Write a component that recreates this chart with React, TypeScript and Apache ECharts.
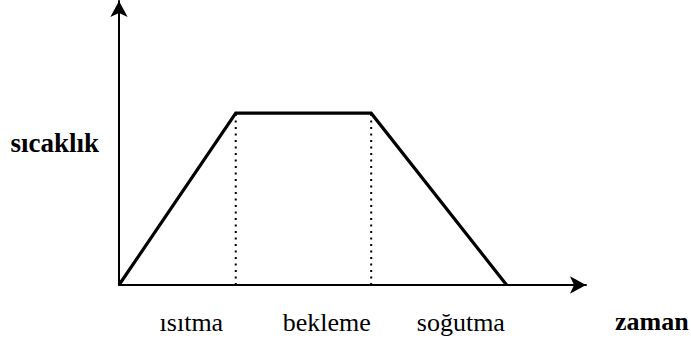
import React, { useEffect, useRef } from "react";
import * as echarts from "echarts";

// time (x) and temperature (y) of the heat-treatment profile
const profileTime = [0, 25, 54, 83];
const profileTemp = [0, 60.5, 60.5, 0];
// dotted guide lines at phase boundaries
const guideTimes = [25, 54];
const guideTop = 60.5;
// phase labels under the time axis
const phaseLabels = ["ısıtma", "bekleme", "soğutma"];
const phaseLabelAt = [15.5, 44.5, 73.2];
const xName = "zaman";
const yName = "sıcaklık";

export default function App() {
  const ref = useRef<HTMLDivElement>(null);
  useEffect(() => {
    if (!ref.current) return;
    const chart = echarts.init(ref.current, null, { renderer: "svg" });
    const font = "Liberation Serif";
    const series: any[] = [
      {
        type: "line",
        data: profileTime.map((t, i) => [t, profileTemp[i]]),
        symbol: "none",
        lineStyle: { color: "#000", width: 3.2, join: "miter" },
        z: 5,
      },
    ];
    guideTimes.forEach((t) => {
      series.push({
        type: "line",
        data: [
          [t, 0],
          [t, guideTop],
        ],
        symbol: "none",
        lineStyle: { color: "#000", width: 2, type: [2, 4.5] },
        z: 3,
      });
    });
    chart.setOption({
      animation: false,
      backgroundColor: "#fff",
      grid: { left: 119, right: 105, top: 1, bottom: 55, outerBoundsMode: "none", containLabel: false },
      xAxis: {
        type: "value",
        min: 0,
        max: 100,
        name: xName,
        nameLocation: "end",
        nameGap: 29,
        nameTextStyle: {
          fontFamily: font,
          fontSize: 26,
          fontWeight: "bold",
          color: "#000",
          verticalAlign: "top",
          align: "left",
          padding: [23, 0, 0, 0],
        },
        axisLine: {
          show: true,
          symbol: ["none", "arrow"],
          symbolSize: [13, 16],
          lineStyle: { color: "#000", width: 2 },
        },
        axisTick: { show: false },
        splitLine: { show: false },
        axisLabel: {
          customValues: phaseLabelAt,
          formatter: (v: number) => {
            const i = phaseLabelAt.findIndex((p) => Math.abs(p - v) < 1e-6);
            return i >= 0 ? phaseLabels[i] : "";
          },
          fontFamily: font,
          fontSize: 26,
          color: "#000",
          margin: 24,
        },
      },
      yAxis: {
        type: "value",
        min: 0,
        max: 100,
        name: yName,
        nameLocation: "middle",
        nameRotate: 0,
        nameGap: 20,
        nameTextStyle: {
          fontFamily: font,
          fontSize: 27,
          fontWeight: "bold",
          color: "#000",
          align: "right",
          padding: [0, 0, 26, 0],
        },
        axisLine: {
          show: true,
          symbol: ["none", "arrow"],
          symbolSize: [13, 16],
          lineStyle: { color: "#000", width: 2 },
        },
        axisTick: { show: false },
        splitLine: { show: false },
        axisLabel: { show: false },
      },
      series,
    });
    return () => chart.dispose();
  }, []);
  return (
    <div
      ref={ref}
      style={{ position: "fixed", left: 0, top: 0, width: 691, height: 340, background: "#fff" }}
    />
  );
}
